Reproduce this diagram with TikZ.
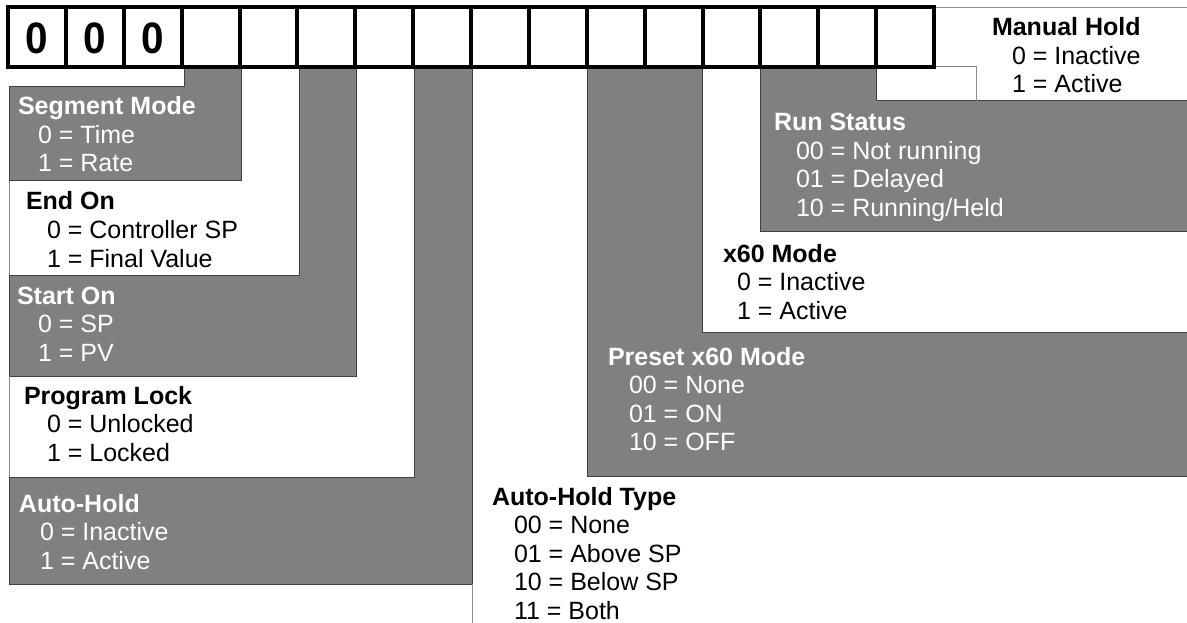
\documentclass[tikz,border=0pt]{standalone}
\usepackage{fontspec}
\setmainfont{Liberation Sans}
\definecolor{boxgray}{HTML}{808080}
\definecolor{edgegray}{HTML}{404040}
\definecolor{lightedge}{HTML}{8C8C8C}
\newcommand{\fieldblock}[7]{%
  \node[#1] (#2) at (#3,#5) {\bfseries #6};
  \foreach \t [count=\k] in {#7} {\node[#1] (#2-\k) at (#4,{#5+\k*28.5}) {\t};}
}
\begin{document}
\begin{tikzpicture}[x=1pt,y=-1pt,
  graybox/.style={fill=boxgray,draw=edgegray,line width=1pt},
  thinedge/.style={draw=lightedge,line width=0.9pt},
  lbl/.style={inner sep=0pt,outer sep=0pt,anchor=base west,font=\fontsize{25}{29}\selectfont},
  ongray/.style={lbl,text=white},
  onwhite/.style={lbl,text=black},
  cell/.style={draw=black,line width=4pt,minimum width=57.875pt,minimum height=60pt,inner sep=0pt,outer sep=0pt},
  digit/.style={inner sep=0pt,font=\fontsize{44}{44}\selectfont\bfseries}]
\useasboundingbox (0,0) rectangle (1187,623);
\fill[white] (0,0) rectangle (1187,623);

% grey field regions
\draw[graybox] (184,67) -- (241,67) -- (241,181) -- (9,181) -- (9,87) -- (184,87) -- cycle;
\draw[graybox] (299,67) -- (356,67) -- (356,376) -- (9,376) -- (9,275) -- (299,275) -- cycle;
\draw[graybox] (414,67) -- (472,67) -- (472,584) -- (9,584) -- (9,477) -- (414,477) -- cycle;
\draw[graybox] (587,67) -- (702,67) -- (702,332) -- (1187,332) -- (1187,476) -- (587,476) -- cycle;
\draw[graybox] (760,67) -- (876,67) -- (876,101) -- (1187,101) -- (1187,231) -- (760,231) -- cycle;

% white field outlines
\draw[thinedge] (9,181) -- (9,275);
\draw[thinedge] (9,376) -- (9,477);
\draw[thinedge] (472,584) -- (472,623);
\draw[thinedge] (934,7) -- (1187,7);
\draw[thinedge] (934,66) -- (976,66) -- (976,101);

% register
\foreach \i in {0,...,15}
  \node[cell] (c\i) at ({8+57.875*(\i+0.5)},37) {};
\foreach \i in {0,1,2}
  \node[digit] (d\i) at ([yshift=-1.5pt]c\i.center) {\scalebox{0.92}[1]{0}};

% texts
\fieldblock{ongray}{seg}{18}{38}{115}{Segment Mode}{0 = Time,1 = Rate}
\fieldblock{onwhite}{endon}{26}{47}{210}{End On}{0 = Controller SP,1 = Final Value}
\fieldblock{ongray}{starton}{17}{38}{304}{Start On}{0 = SP,1 = PV}
\fieldblock{onwhite}{lock}{24}{47}{404}{Program Lock}{0 = Unlocked,1 = Locked}
\fieldblock{ongray}{autohold}{19}{40}{512}{Auto-Hold}{0 = Inactive,1 = Active}
\fieldblock{onwhite}{ahtype}{492}{514}{505}{Auto-Hold Type}{00 = None,01 = Above SP,10 = Below SP,11 = Both}
\fieldblock{ongray}{preset}{608}{629}{365}{Preset x60 Mode}{00 = None,01 = ON,10 = OFF}
\fieldblock{onwhite}{xsixty}{723}{737}{262}{x60 Mode}{0 = Inactive,1 = Active}
\fieldblock{ongray}{run}{774}{796}{131}{Run Status}{00 = Not running,01 = Delayed,10 = Running/Held}
\fieldblock{onwhite}{manual}{992}{1012}{36}{Manual Hold}{0 = Inactive,1 = Active}
\end{tikzpicture}
\end{document}
